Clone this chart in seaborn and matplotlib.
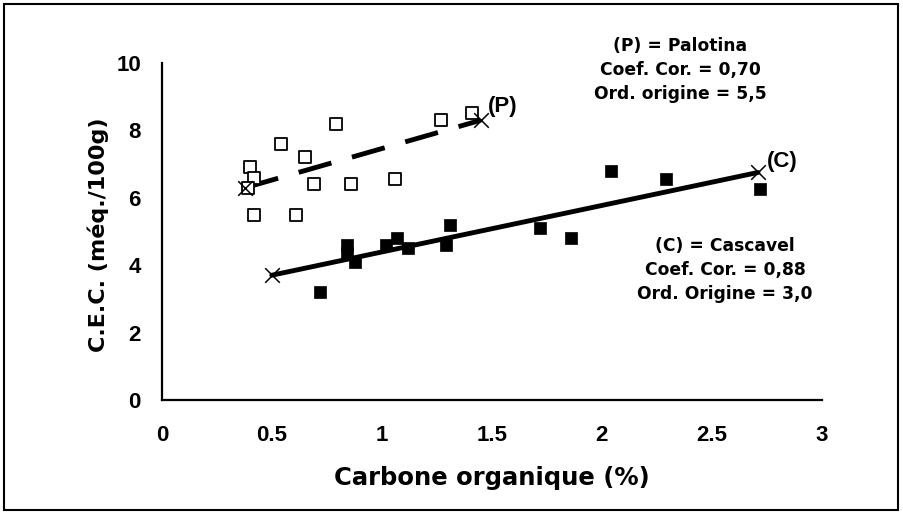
import matplotlib
matplotlib.use("Agg")
import matplotlib.pyplot as plt
import seaborn as sns
import pandas as pd
from matplotlib.patches import Rectangle

# Palotina (open squares)
pal_x = [0.40, 0.42, 0.39, 0.42, 0.54, 0.61, 0.65, 0.69, 0.79, 0.86, 1.06, 1.27, 1.41]
pal_y = [6.9, 6.6, 6.3, 5.5, 7.6, 5.5, 7.2, 6.4, 8.2, 6.4, 6.55, 8.3, 8.5]
# Cascavel (filled squares)
cas_x = [0.72, 0.84, 0.84, 0.88, 1.02, 1.07, 1.12, 1.29, 1.31, 1.72, 1.86, 2.04, 2.29, 2.72]
cas_y = [3.2, 4.6, 4.35, 4.1, 4.6, 4.8, 4.5, 4.6, 5.2, 5.1, 4.8, 6.8, 6.55, 6.25]
# regression line endpoints
pal_line_x = [0.38, 1.45]
pal_line_y = [6.3, 8.3]
cas_line_x = [0.50, 2.71]
cas_line_y = [3.7, 6.75]

x_ticks = [0, 0.5, 1, 1.5, 2, 2.5, 3]
x_tick_labels = ["0", "0.5", "1", "1.5", "2", "2.5", "3"]
y_ticks = [0, 2, 4, 6, 8, 10]

sns.set_theme(style="white")
plt.rcParams['font.family'] = ['Liberation Sans', 'DejaVu Sans']
plt.rcParams['text.color'] = 'black'
plt.rcParams['axes.labelcolor'] = 'black'
WIDE = ['DejaVu Sans', 'Liberation Sans']

fig = plt.figure(figsize=(9.04, 5.16), dpi=100)
ax = fig.add_axes([0.179, 0.225, 0.730, 0.653])

pal = pd.DataFrame({"x": pal_x, "y": pal_y})
cas = pd.DataFrame({"x": cas_x, "y": cas_y})

sns.lineplot(x=pal_line_x, y=pal_line_y, ax=ax, color="black", lw=3.5,
             linestyle=(0, (7.0, 4.4)), zorder=2)
sns.lineplot(x=cas_line_x, y=cas_line_y, ax=ax, color="black", lw=3.5, zorder=2)

sns.scatterplot(data=pal, x="x", y="y", ax=ax, marker="s", s=72,
                facecolor="white", edgecolor="black", linewidth=1.3, zorder=3)
sns.scatterplot(data=cas, x="x", y="y", ax=ax, marker="s", s=72,
                color="black", edgecolor="black", linewidth=0.5, zorder=3)
sns.scatterplot(x=pal_line_x + cas_line_x, y=pal_line_y + cas_line_y, ax=ax,
                marker="x", s=110, color="black", linewidth=1.1, zorder=4)

ax.set_xlim(0, 3)
ax.set_ylim(0, 10)
ax.set_xticks(x_ticks)
ax.set_xticklabels(x_tick_labels)
ax.set_yticks(y_ticks)
for s in ["top", "right"]:
    ax.spines[s].set_visible(False)
for s in ["left", "bottom"]:
    ax.spines[s].set_color("black")
    ax.spines[s].set_linewidth(1.6)
ax.tick_params(axis="both", direction="inout", length=8, width=1.4,
               colors="black", labelsize=16)
ax.tick_params(axis="x", pad=14)
ax.tick_params(axis="y", pad=11)
for lab in ax.get_xticklabels() + ax.get_yticklabels():
    lab.set_fontweight("bold")

ax.set_xlabel("Carbone organique (%)", fontsize=17.5, fontweight="bold",
              family=WIDE, va="center", color="black")
ax.set_ylabel("C.E.C. (méq./100g)", fontsize=16, fontweight="bold",
              family=WIDE, va="center", color="black")
ax.xaxis.set_label_coords(0.5, -0.232)
ax.yaxis.set_label_coords(-0.097, 0.49)

ax.text(1.45 + 0.03, 8.3 + 0.1, "(P)", fontsize=16, fontweight="bold",
        ha="left", va="bottom", color="black")
ax.text(2.71 + 0.04, 6.75 + 0.0, "(C)", fontsize=16, fontweight="bold",
        ha="left", va="bottom", color="black")

fs = 12.3
pal_lines = ["(P) = Palotina", "Coef. Cor. = 0,70", "Ord. origine = 5,5"]
cas_lines = ["(C) = Cascavel", "Coef. Cor. = 0,88", "Ord. Origine = 3,0"]
for txt, yy in zip(pal_lines, [46, 70, 94]):
    fig.text(680 / 904, 1 - yy / 516, txt, fontsize=fs, fontweight="bold",
             family=WIDE, ha="center", va="center", color="black")
for txt, yy in zip(cas_lines, [246, 270, 294]):
    fig.text(725 / 904, 1 - yy / 516, txt, fontsize=fs, fontweight="bold",
             family=WIDE, ha="center", va="center", color="black")

fig.patches.append(Rectangle((4 / 904, 6 / 516), 894 / 904, 506 / 516,
                             transform=fig.transFigure, fill=False,
                             edgecolor="black", linewidth=1.5))

fig.savefig("out.png", dpi=100)
